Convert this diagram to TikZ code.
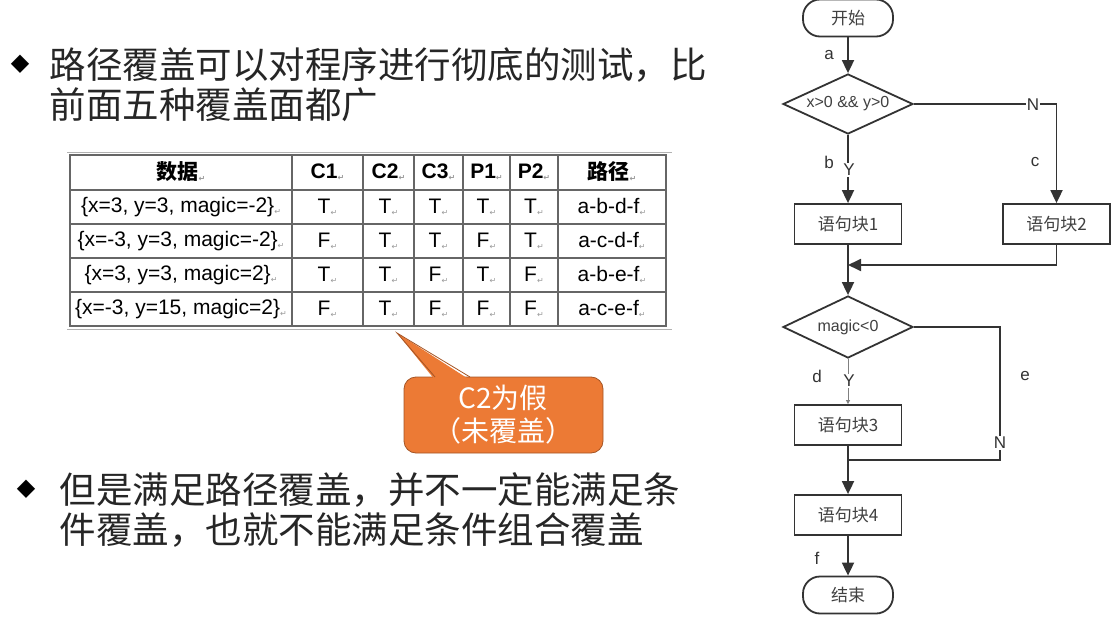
\documentclass[tikz,border=0pt]{standalone}
\usepackage{fontspec}
\setmainfont{Liberation Sans}
\newfontfamily\cjk{Noto Sans CJK SC}
\newfontfamily\djv{DejaVu Sans}
\usetikzlibrary{shapes.geometric,arrows.meta}
\newcommand\parmk{\raisebox{-2pt}{\djv\fontsize{8}{8}\selectfont\color{black!40}↵}}
\begin{document}
\begin{tikzpicture}[x=1pt,y=-1pt,
  fl/.style={draw=black!80,line width=1.8pt},
  arr/.style={fl,-{Triangle[length=13pt,width=12pt]}},
  blk/.style={draw=black!80,line width=1.8pt,minimum width=107pt,minimum height=40pt,inner sep=0pt,font=\cjk\fontsize{17}{17}\selectfont,text=black!75},
  term/.style={blk,rounded corners=17pt,minimum width=90pt,minimum height=37pt},
  dia/.style={draw=black!80,line width=1.8pt,diamond,aspect=2.2,minimum width=130pt,minimum height=60pt,inner sep=0pt,font=\fontsize{16}{16}\selectfont,text=black!75},
  lab/.style={font=\fontsize{17}{17}\selectfont,text=black!80},
  cell/.style={font=\fontsize{21}{21}\selectfont},
  big/.style={font=\cjk\fontsize{36.5}{36.5}\selectfont,text=black!85,anchor=west}]
\useasboundingbox (0,0) rectangle (1117,618);
\fill[white] (0,0) rectangle (1117,618);
% bullets text
\node[font=\djv\fontsize{24}{24}\selectfont] (b1) at (20,64) {◆};
\node[big] (t1) at (46,65) {路径覆盖可以对程序进行彻底的测试，比};
\node[big] (t2) at (46,105) {前面五种覆盖面都广};
\node[font=\djv\fontsize{24}{24}\selectfont] (b2) at (26,489) {◆};
\node[big] (t3) at (56,490) {但是满足路径覆盖，并不一定能满足条};
\node[big] (t4) at (56,530) {件覆盖，也就不能满足条件组合覆盖};
% table
\foreach \x in {292,363,414,463,510,558}{\draw[black!60,line width=1.2pt] (\x,155)--(\x,326);}
\foreach \y in {190,224,258,292}{\draw[black!60,line width=1.2pt] (70,\y)--(666,\y);}
\draw[black!60,line width=1.4pt] (70,155) rectangle (666,326);
\draw[black!30] (67,152) -- (672,152) (67,329)--(672,329);
\def\cx{{181,327.5,388.5,438.5,486.5,534,612}}
\foreach \t [count=\i from 0] in {\cjk 数据,C1,C2,C3,P1,P2,\cjk 路径}{
  \pgfmathsetmacro\xx{\cx[\i]}
  \node[cell,font=\fontsize{21}{21}\selectfont\bfseries] (h\i) at (\xx,172) {\t\parmk};}
\foreach \r/\y in {1/207,2/241,3/275,4/309}{
  \foreach \i in {0,...,6}{\pgfmathsetmacro\xx{\cx[\i]}\coordinate (c\r\i) at (\xx,\y);}}
\foreach \i/\t in {0/{\{x=3, y=3, magic=-2\}},1/T,2/T,3/T,4/T,5/T,6/a-b-d-f}{\node[cell] at (c1\i) {\t\parmk};}
\foreach \i/\t in {0/{\{x=-3, y=3, magic=-2\}},1/F,2/T,3/T,4/F,5/T,6/a-c-d-f}{\node[cell] at (c2\i) {\t\parmk};}
\foreach \i/\t in {0/{\{x=3, y=3, magic=2\}},1/T,2/T,3/F,4/T,5/F,6/a-b-e-f}{\node[cell] at (c3\i) {\t\parmk};}
\foreach \i/\t in {0/{\{x=-3, y=15, magic=2\}},1/F,2/T,3/F,4/F,5/F,6/a-c-e-f}{\node[cell] at (c4\i) {\t\parmk};}
% callout
\definecolor{co}{HTML}{EC7A35}
\fill[co,draw=co!70!black,line width=0.8pt,rounded corners=12pt] (404,377) rectangle (603,453);
\fill[co] (397,333) -- (470,380) -- (435,380) -- cycle;
\draw[co!70!black,line width=0.8pt] (435,377) -- (397,333) -- (470,377);
\node[font=\cjk\fontsize{28}{33}\selectfont,text=white,align=center] (cot) at (503,415) {C2为假\\（未覆盖）};
% flowchart
\node[term] (st) at (848,18) {开始};
\node[dia] (d1) at (848,104) {x>0 \&\& y>0};
\node[blk] (k1) at (848,224) {语句块1};
\node[blk] (k2) at (1056.5,224) {语句块2};
\node[dia,minimum height=62pt] (d2) at (848,327) {magic<0};
\node[blk] (k3) at (848,425) {语句块3};
\node[blk] (k4) at (848,515) {语句块4};
\node[term] (en) at (848,595) {结束};
\coordinate (m1) at (848,265);
\coordinate (m2) at (848,460);
\draw[arr] (st) -- (d1);
\draw[arr] (d1) -- (k1);
\draw[arr] (d1.east) -| (k2.north);
\draw[arr] (k2.south) |- (m1);
\draw[arr] (k1) -- (d2);
\draw[fl,black!50,line width=0.8pt,-{Triangle[length=4pt,width=4pt]}] (d2) -- (k3);
\draw[fl] (d2.east) -| (1000,460) -- (m2);
\draw[arr] (k3) -- (k4);
\draw[arr] (k4) -- (en);
\node[lab,fill=white,inner sep=1pt] (ny1) at (1033,105) {N};
\node[lab,fill=white,inner sep=1pt] (y1) at (849,170) {Y};
\node[lab,fill=white,inner sep=1pt] (y2) at (849,381) {Y};
\node[lab,fill=white,inner sep=1pt] (n2) at (1000,443) {N};
\node[lab] (la) at (829,55) {a};
\node[lab] (lb) at (829,162) {b};
\node[lab] (lc) at (1035,162) {c};
\node[lab] (ld) at (817,376) {d};
\node[lab] (le) at (1025,376) {e};
\node[lab] (lf) at (817,558) {f};
\end{tikzpicture}
\end{document}
